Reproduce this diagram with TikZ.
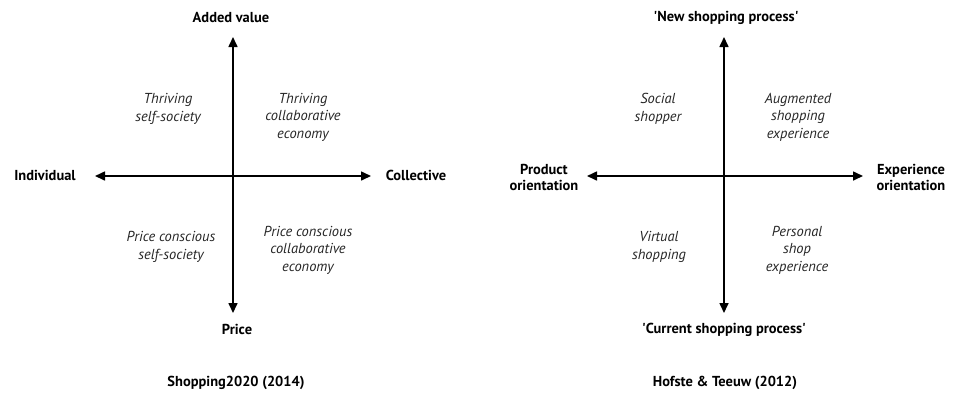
\documentclass[tikz,border=0pt]{standalone}
\usepackage{fontspec}
\setmainfont{PT Sans}
\usetikzlibrary{arrows.meta}
\tikzset{
  axis/.style={line width=1.6bp,{Triangle[length=10bp,width=9bp]}-{Triangle[length=10bp,width=9bp]}},
  axisup/.style={line width=1.6bp,-{Triangle[length=10bp,width=9bp]}},
  pole/.style={font=\fontsize{14.5}{16}\selectfont\bfseries,align=center,inner sep=0pt},
  quad/.style={font=\fontsize{14.5}{17.5}\selectfont\itshape,align=center,inner sep=0pt,text=black!85},
  caption/.style={font=\fontsize{14.5}{16}\selectfont\bfseries,inner sep=0pt}
}
\begin{document}
\begin{tikzpicture}[x=1bp,y=-1bp]
\useasboundingbox (0,0) rectangle (960,401);
% ---------- left diagram ----------
\coordinate (Lc) at (233,176);
\coordinate (Lt) at (233,37);
\coordinate (Lb) at (233,313);
\coordinate (Ll) at (95,176);
\coordinate (Lr) at (371,176);
\draw[axis] (Ll) -- (Lr);
\draw[axisup] (Lc) -- (Lt);
\draw[axisup] (Lc) -- (Lb);
\node[pole] (addv) at (231,18) {Added value};
\node[pole] (indiv) at (45,175) {Individual};
\node[pole] (coll) at (416,175) {Collective};
\node[pole] (price) at (237,329) {Price};
\node[quad] (q1) at (168,109) {Thriving\\self-society};
\node[quad] (q2) at (303,117) {Thriving\\collaborative\\economy};
\node[quad] (q3) at (171,247) {Price conscious\\self-society};
\node[quad] (q4) at (308,250) {Price conscious\\collaborative\\economy};
\node[caption] (cap1) at (236,383) {Shopping2020 (2014)};
% ---------- right diagram ----------
\coordinate (Rc) at (724,176);
\coordinate (Rt) at (724,37);
\coordinate (Rb) at (724,313);
\coordinate (Rl) at (587,176);
\coordinate (Rr) at (863,176);
\draw[axis] (Rl) -- (Rr);
\draw[axisup] (Rc) -- (Rt);
\draw[axisup] (Rc) -- (Rb);
\node[pole] (newsp) at (726,18) {\textquotesingle New shopping process\textquotesingle};
\node[pole] (prod) at (544,177) {Product\\orientation};
\node[pole] (exper) at (911,177) {Experience\\orientation};
\node[pole] (cursp) at (724,330) {\textquotesingle Current shopping process\textquotesingle};
\node[quad] (r1) at (658,109) {Social\\shopper};
\node[quad] (r2) at (798,117) {Augmented\\shopping\\experience};
\node[quad] (r3) at (659,247) {Virtual\\shopping};
\node[quad] (r4) at (797,250) {Personal\\shop\\experience};
\node[caption] (cap2) at (725,383) {Hofste \& Teeuw (2012)};
\end{tikzpicture}
\end{document}
